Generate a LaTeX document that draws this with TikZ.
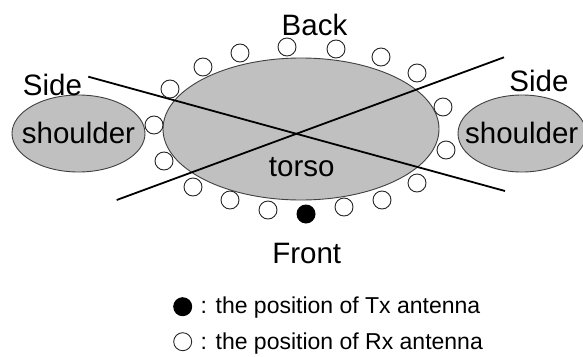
\documentclass[tikz,border=0pt]{standalone}
\usepackage{fontspec}
\setmainfont{Liberation Sans}
\usetikzlibrary{shapes.geometric}
\definecolor{bodyfill}{HTML}{C0C0C0}
\definecolor{edgegray}{HTML}{404040}
\begin{document}
\begin{tikzpicture}[x=1pt,y=-1pt,
  body/.style={ellipse, draw=edgegray, fill=bodyfill, line width=0.9pt, inner sep=0pt},
  rxant/.style={circle, draw=black!85, fill=white, line width=0.9pt, minimum size=18pt, inner sep=0pt},
  txant/.style={circle, fill=black, minimum size=19pt, inner sep=0pt},
  big/.style={font=\fontsize{29.5}{32}\selectfont, inner sep=0pt, anchor=base},
  leg/.style={font=\fontsize{23}{26}\selectfont, inner sep=0pt, anchor=base west},
  cut/.style={draw=black, line width=1.8pt}]
\useasboundingbox (0,0) rectangle (583,356);
% body parts
\node[body, minimum width=276pt, minimum height=142pt] (torso) at (301,129) {};
\node[body, minimum width=133pt, minimum height=77pt] (lsh) at (78.5,133.5) {};
\node[body, minimum width=128pt, minimum height=77pt] (rsh) at (522,133.5) {};
% crossing lines
\coordinate (a1) at (88.3,76.7); \coordinate (a2) at (505,191);
\coordinate (b1) at (116.7,200); \coordinate (b2) at (504,57.3);
\draw[cut] (a1) -- (a2);
\draw[cut] (b1) -- (b2);
% Rx antennas
\node[rxant] (r1) at (170,89) {};
\node[rxant] (r2) at (203,67) {};
\node[rxant] (r3) at (240,53) {};
\node[rxant] (r4) at (287,47) {};
\node[rxant] (r5) at (336,49) {};
\node[rxant] (r6) at (381,57) {};
\node[rxant] (r7) at (417,73) {};
\node[rxant] (r8) at (443,107) {};
\node[rxant] (r9) at (446,150) {};
\node[rxant] (r10) at (417,183) {};
\node[rxant] (r11) at (382,200) {};
\node[rxant] (r12) at (344,207) {};
\node[rxant] (r13) at (268,210) {};
\node[rxant] (r14) at (230,200) {};
\node[rxant] (r15) at (193,187) {};
\node[rxant] (r16) at (164,161) {};
\node[rxant] (r17) at (154,125) {};
% Tx antenna
\node[txant] (tx) at (306,214) {};
% labels
\node[big] (back) at (314.5,35) {Back};
\node[big] (lside) at (52.5,95) {Side};
\node[big] (rside) at (539,91.7) {Side};
\node[big] (lshl) at (78.5,143.3) {shoulder};
\node[big] (rshl) at (521.7,143.3) {shoulder};
\node[big] (torsol) at (301.7,176.7) {torso};
\node[big] (front) at (306.7,263.5) {Front};
% legend
\node[txant] (ltx) at (182.7,306.7) {};
\node[rxant] (lrx) at (182.7,341.7) {};
\node[leg] (ltxt) at (200.5,313) {: the position of Tx antenna};
\node[leg] (lrxt) at (200.5,349.5) {: the position of Rx antenna};
\end{tikzpicture}
\end{document}
